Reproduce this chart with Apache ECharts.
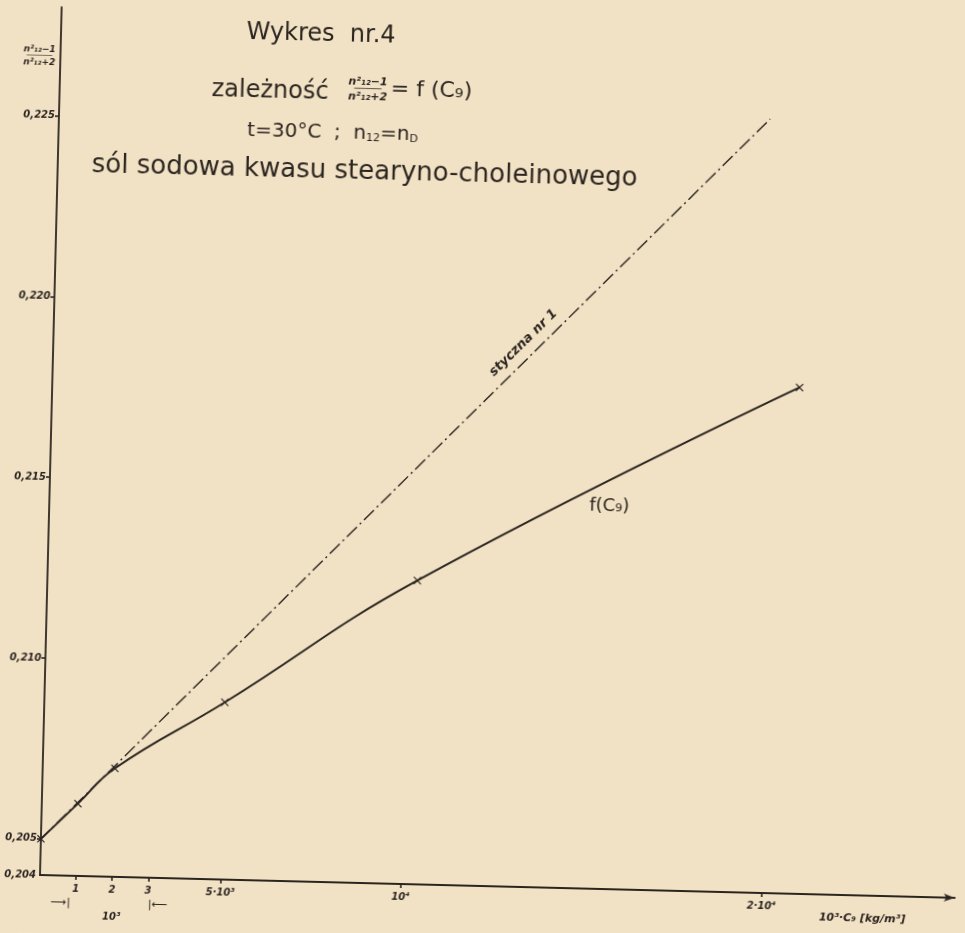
<!DOCTYPE html>
<html>
<head>
<meta charset="utf-8">
<title>Wykres nr.4</title>
<script src="https://cdn.jsdelivr.net/npm/echarts@6/dist/echarts.min.js"></script>
<style>
  html, body { margin: 0; padding: 0; background: #f2e2c5; overflow: hidden; }
  /* the drawing sheet sits slightly turned, so the whole chart is rotated about the axis origin */
  #chart { width: 965px; height: 933px; transform: rotate(1.43deg); transform-origin: 40px 875px; }
</style>
</head>
<body>
<div id="chart"></div>
<script>
// measured concentrations (10^3 * C) and the Lorentz–Lorenz function values
const concC = [0, 1000, 2000, 5000, 10250, 20700];
const funcY = [0.2050, 0.2060, 0.2070, 0.2089, 0.2124, 0.2180];

// tangent no. 1 drawn at the low-concentration end
const tangentC = [-500, 19700];
const tangentY = [0.20448, 0.2254];

// axis tick values and their labels
const xTickValues = [1000, 2000, 3000, 5000, 10000, 20000];
const xTickLabels = ['1', '2', '3', '5·10³', '10⁴', '2·10⁴'];
const yTickValues = [0.205, 0.210, 0.215, 0.220, 0.225];
const yLabelValues = [0.204, 0.205, 0.210, 0.215, 0.220, 0.225];

const ink = '#2b2520';
const paper = '#f2e2c5';
const tickFont = { fontFamily: 'DejaVu Sans', fontStyle: 'italic', fontWeight: 'bold', fontSize: 10, color: ink };

const chart = echarts.init(document.getElementById('chart'), null, { renderer: 'canvas' });

function xLabel(v) {
  const i = xTickValues.indexOf(v);
  const t = i >= 0 ? xTickLabels[i] : '';
  if (v === 1000) return '{t|' + t + '}\n{al|⟶|}';
  if (v === 2000) return '{t|' + t + '}\n{gap| }\n{t|10³}';
  if (v === 3000) return '{t|' + t + '}\n{ar||⟵}';
  return '{t|' + t + '}';
}

const option = {
  backgroundColor: paper,
  animation: false,
  grid: { left: 40, top: 7, width: 915, height: 868, containLabel: false },
  xAxis: {
    type: 'value',
    min: 0,
    max: 25350,
    splitLine: { show: false },
    axisLine: {
      show: true, onZero: false,
      symbol: ['none', 'arrow'], symbolSize: [6, 11],
      lineStyle: { color: ink, width: 1.8 }
    },
    axisTick: { show: true, customValues: xTickValues, length: 4, inside: false, lineStyle: { color: ink, width: 1.6 } },
    axisLabel: {
      customValues: xTickValues,
      margin: 7,
      formatter: xLabel,
      rich: {
        t: Object.assign({}, tickFont, { lineHeight: 13 }),
        gap: { fontSize: 8, lineHeight: 14 },
        al: Object.assign({}, tickFont, { fontStyle: 'normal', fontWeight: 'normal', fontSize: 11, lineHeight: 14, padding: [0, 30, 0, 0] }),
        ar: Object.assign({}, tickFont, { fontStyle: 'normal', fontWeight: 'normal', fontSize: 11, lineHeight: 14, padding: [0, 0, 0, 20] })
      }
    },
    name: '10³·C₉ [kg/m³]',
    nameLocation: 'end',
    nameGap: -92,
    nameTextStyle: Object.assign({}, tickFont, { fontSize: 11, align: 'center', verticalAlign: 'top', padding: [18, 0, 0, 0] })
  },
  yAxis: {
    type: 'value',
    min: 0.204,
    max: 0.228,
    splitLine: { show: false },
    axisLine: { show: true, onZero: false, lineStyle: { color: ink, width: 1.8 } },
    axisTick: { show: true, customValues: yTickValues, length: 4, lineStyle: { color: ink, width: 1.6 } },
    axisLabel: Object.assign({}, tickFont, {
      customValues: yLabelValues,
      margin: 4,
      formatter: v => v.toFixed(3).replace('.', ',')
    })
  },
  series: [
    {
      name: 'styczna nr 1',
      type: 'line',
      data: tangentC.map((c, i) => [c, tangentY[i]]),
      symbol: 'none',
      clip: false,
      z: 2,
      lineStyle: { color: ink, width: 1.4, type: [14, 4, 2, 4] }
    },
    {
      name: 'f(C₉)',
      type: 'line',
      data: concC.map((c, i) => [c, funcY[i]]),
      smooth: 0.45,
      clip: false,
      z: 3,
      symbol: 'path://M0,1L1,0L5,4L9,0L10,1L6,5L10,9L9,10L5,6L1,10L0,9L4,5Z',
      symbolSize: 8,
      itemStyle: { color: ink },
      lineStyle: { color: ink, width: 2 }
    }
  ],
  graphic: [
    {
      type: 'text', x: 300, y: 28,
      style: { text: 'Wykres  nr.4', font: '24px "DejaVu Sans"', fill: ink, align: 'center', verticalAlign: 'middle' }
    },
    {
      type: 'text', x: 192, y: 86,
      style: { text: 'zależność', font: '24px "DejaVu Sans"', fill: ink, align: 'left', verticalAlign: 'middle' }
    },
    {
      type: 'text', x: 348, y: 82,
      style: {
        text: '{n|n²₁₂−1}\n{l|─────}\n{d|n²₁₂+2}',
        align: 'center', verticalAlign: 'middle', fill: ink,
        rich: {
          n: { fontFamily: 'DejaVu Sans', fontWeight: 'bold', fontStyle: 'italic', fontSize: 11, lineHeight: 12, fill: ink },
          l: { fontFamily: 'DejaVu Sans', fontWeight: 'bold', fontSize: 9, lineHeight: 3, fill: ink },
          d: { fontFamily: 'DejaVu Sans', fontWeight: 'bold', fontStyle: 'italic', fontSize: 11, lineHeight: 12, fill: ink }
        }
      }
    },
    {
      type: 'text', x: 371, y: 81,
      style: { text: '= f (C₉)', font: '22px "DejaVu Sans"', fill: ink, align: 'left', verticalAlign: 'middle' }
    },
    {
      type: 'text', x: 314, y: 126,
      style: {
        text: '{a|t=30°C  ;  n}{s|12}{a|=n}{s|D}',
        align: 'center', verticalAlign: 'middle', fill: ink,
        rich: {
          a: { fontFamily: 'DejaVu Sans', fontSize: 20, fill: ink, verticalAlign: 'middle' },
          s: { fontFamily: 'DejaVu Sans', fontSize: 11, fill: ink, verticalAlign: 'bottom' }
        }
      }
    },
    {
      type: 'text', x: 347, y: 164,
      style: { text: 'sól sodowa kwasu stearyno-choleinowego', font: '26px "DejaVu Sans"', fill: ink, align: 'center', verticalAlign: 'middle' }
    },
    {
      type: 'text', x: 600, y: 492,
      style: { text: 'f(C₉)', font: '18px "DejaVu Sans"', fill: ink, align: 'center', verticalAlign: 'middle' }
    },
    {
      type: 'text', x: 510, y: 331, rotation: 46 * Math.PI / 180,
      style: { text: 'styczna nr 1', font: 'italic bold 13px "DejaVu Sans"', fill: ink, align: 'center', verticalAlign: 'middle' }
    },
    {
      type: 'text', x: 19, y: 56,
      style: {
        text: '{n|n²₁₂−1}\n{l|──────}\n{d|n²₁₂+2}',
        align: 'center', verticalAlign: 'middle', fill: ink,
        rich: {
          n: { fontFamily: 'DejaVu Sans', fontWeight: 'bold', fontStyle: 'italic', fontSize: 9, lineHeight: 10, fill: ink },
          l: { fontFamily: 'DejaVu Sans', fontWeight: 'bold', fontSize: 7, lineHeight: 3, fill: ink },
          d: { fontFamily: 'DejaVu Sans', fontWeight: 'bold', fontStyle: 'italic', fontSize: 9, lineHeight: 10, fill: ink }
        }
      }
    }
  ]
};

chart.setOption(option);
</script>
</body>
</html>
